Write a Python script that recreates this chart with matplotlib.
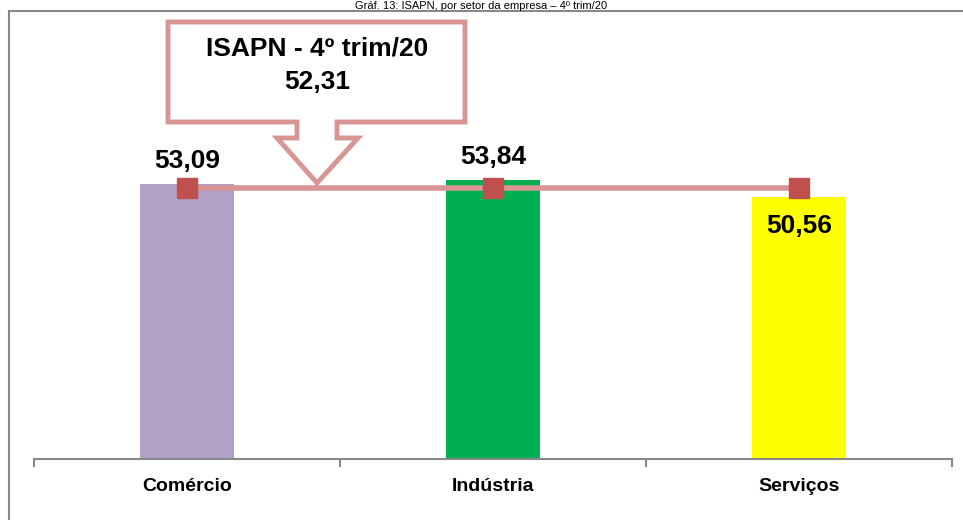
import matplotlib.pyplot as plt
from matplotlib.patches import Polygon, Rectangle

# data
setores = ['Comércio', 'Indústria', 'Serviços']
valores = [53.09, 53.84, 50.56]
rotulos = ['53,09', '53,84', '50,56']
isapn_total = 52.31
cores = ['#b2a1c7', '#00b050', '#ffff00']

W, H = 963, 520
plt.rcParams['font.family'] = ['Liberation Sans Narrow', 'Liberation Sans', 'DejaVu Sans']

fig = plt.figure(figsize=(W / 100, H / 100), dpi=100)


def fx(px):
    return px / W


def fy(py):
    return 1 - py / H


# axes placed so that 0 sits at y=459 px and category slots are 306 px wide
ax = fig.add_axes([fx(34), fy(459), fx(918), (459 - 45) / H])
x = list(range(len(setores)))
ax.bar(x, valores, width=0.31, color=cores, zorder=2)
ax.plot([0, 2], [isapn_total, isapn_total],
        color='#d99594', lw=4, zorder=3, solid_capstyle='butt')
ax.plot(x, [isapn_total] * len(x), ls='none', marker='s', ms=14,
        color='#c0504d', mec='#c0504d', zorder=4)

ax.set_xlim(-0.5, 2.5)
ax.set_ylim(0, 80)
ax.set_yticks([])
for s in ['top', 'right', 'left']:
    ax.spines[s].set_visible(False)
ax.spines['bottom'].set_color('#888888')
ax.spines['bottom'].set_linewidth(1.5)
ax.set_xticks([-0.5, 0.5, 1.5, 2.5])
ax.set_xticklabels([])
ax.tick_params(axis='x', which='major', length=6, width=1.5, color='#888888', direction='out')
ax.set_xticks(x, minor=True)
ax.set_xticklabels(setores, minor=True, fontsize=14, fontweight='bold')
ax.tick_params(axis='x', which='minor', length=0, pad=14)

# value labels
ax.annotate(rotulos[0], (0, valores[0]), xytext=(0, 8), textcoords='offset points',
            ha='center', va='bottom', fontsize=19, fontweight='bold')
ax.annotate(rotulos[1], (1, valores[1]), xytext=(0, 8), textcoords='offset points',
            ha='center', va='bottom', fontsize=19, fontweight='bold')
ax.annotate(rotulos[2], (2, valores[2]), xytext=(0, -12), textcoords='offset points',
            ha='center', va='top', fontsize=19, fontweight='bold')

# callout box with arrow
pts = [(168, 22), (465, 22), (465, 122), (337, 122), (337, 138), (358, 138),
       (317, 183), (277, 138), (297, 138), (297, 122), (168, 122)]
fig.patches.append(Polygon([(fx(a), fy(b)) for a, b in pts], closed=True,
                           transform=fig.transFigure, facecolor='white',
                           edgecolor='#d99594', lw=3.5, zorder=5, joinstyle='miter'))
fig.text(fx(317), fy(48), 'ISAPN - 4º trim/20', ha='center', va='center',
         fontsize=19, fontweight='bold', zorder=6)
fig.text(fx(317), fy(82), f'{isapn_total:.2f}'.replace('.', ','),
         ha='center', va='center', fontsize=19, fontweight='bold', zorder=6)

# outer frame (cut off at right and bottom)
fig.patches.append(Rectangle((fx(9), fy(540)), fx(980), (540 - 11) / H, transform=fig.transFigure,
                             fill=False, edgecolor='#888888', lw=1.5, zorder=1))

# title above the frame
fig.text(0.5, fy(9), 'Gráf. 13: ISAPN, por setor da empresa – 4º trim/20',
         ha='center', va='baseline', fontsize=8, family=['Liberation Sans', 'DejaVu Sans'])

fig.savefig('out.png', dpi=100)
